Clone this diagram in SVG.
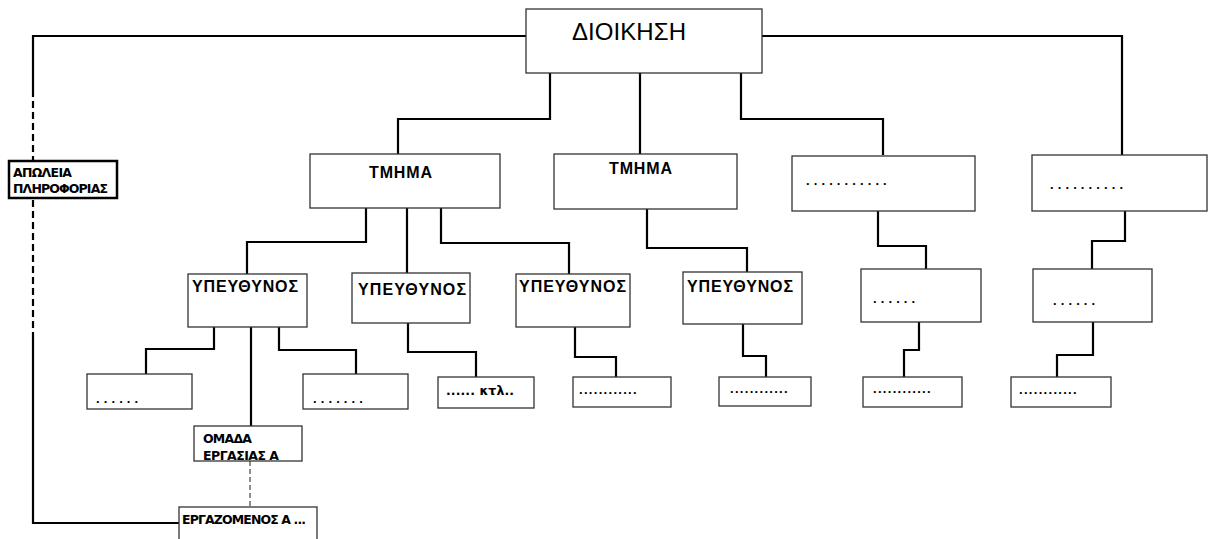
<svg xmlns="http://www.w3.org/2000/svg" width="1211" height="539" viewBox="0 0 1211 539">
<style>
.box{fill:#fff;stroke:#333;stroke-width:1.3}
.thick{fill:#fff;stroke:#000;stroke-width:2.5}
.c{fill:none;stroke:#000;stroke-width:2.2}
.d{fill:none;stroke:#000;stroke-width:2.2;stroke-dasharray:7 4}
.d2{fill:none;stroke:#444;stroke-width:1.2;stroke-dasharray:5 3}
text{font-family:"Liberation Sans",Arial,sans-serif;fill:#000}
.h{font-size:24px}
.t{font-size:16px;font-weight:bold}
.u{font-size:16px;font-weight:bold}
.s{font-family:"DejaVu Sans",sans-serif;font-size:12.5px;font-weight:bold}
.dots{font-size:13px;font-weight:bold;letter-spacing:4.1px}
.dots2{font-size:13px;font-weight:bold;letter-spacing:1.3px}
</style>
<g id="connectors">
<path class="c" d="M526 36 H33 V90"/>
<path class="d" d="M33 90 V335"/>
<path class="c" d="M33 335 V523 H179"/>
<path class="c" d="M762 36 H1122 V155"/>
<path class="c" d="M550 73 V119 H398 V154"/>
<path class="c" d="M640 73 V154"/>
<path class="c" d="M741 73 V119 H883 V155"/>
<path class="c" d="M366 208 V242 H247 V274"/>
<path class="c" d="M407 208 V274"/>
<path class="c" d="M441 208 V243 H569 V274"/>
<path class="c" d="M214 327 V349 H146 V374"/>
<path class="c" d="M251 327 V426"/>
<path class="c" d="M279 327 V350 H356 V374"/>
<path class="d2" d="M250 461 V507"/>
<path class="c" d="M408 323 V352 H476 V377"/>
<path class="c" d="M575 327 V357 H616 V377"/>
<path class="c" d="M647 209 V248 H747 V272"/>
<path class="c" d="M743 324 V356 H766 V377"/>
<path class="c" d="M878 211 V246 H926 V269"/>
<path class="c" d="M919 322 V350 H904 V377"/>
<path class="c" d="M1125 211 V241 H1092 V269"/>
<path class="c" d="M1093 322 V355 H1057 V377"/>
</g>
<g id="dioikisi"><rect class="box" x="526" y="9" width="236" height="64"/><text class="h" x="572" y="40" textLength="114">ΔΙΟΙΚΗΣΗ</text></g>
<g id="apoleia"><rect class="thick" x="9" y="161" width="108" height="37"/><text class="s" x="13" y="177" textLength="59">ΑΠΩΛΕΙΑ</text><text class="s" x="13" y="193" textLength="95">ΠΛΗΡΟΦΟΡΙΑΣ</text></g>
<g id="tmima1"><rect class="box" x="310" y="154" width="190" height="54"/><text class="t" x="369" y="178" textLength="63">ΤΜΗΜΑ</text></g>
<g id="tmima2"><rect class="box" x="554" y="154" width="183" height="55"/><text class="t" x="609" y="174" textLength="63">ΤΜΗΜΑ</text></g>
<g id="dept3"><rect class="box" x="792" y="156" width="183" height="55"/><text class="dots" x="806" y="185">...........</text></g>
<g id="dept4"><rect class="box" x="1032" y="155" width="175" height="56"/><text class="dots" x="1050" y="189">..........</text></g>
<g id="ypeythynos1"><rect class="box" x="188" y="274" width="119" height="53"/><text class="u" x="192" y="292" textLength="106">ΥΠΕΥΘΥΝΟΣ</text></g>
<g id="ypeythynos2"><rect class="box" x="352" y="273" width="118" height="50"/><text class="u" x="358" y="295" textLength="108">ΥΠΕΥΘΥΝΟΣ</text></g>
<g id="ypeythynos3"><rect class="box" x="516" y="274" width="114" height="53"/><text class="u" x="519" y="292" textLength="107">ΥΠΕΥΘΥΝΟΣ</text></g>
<g id="ypeythynos4"><rect class="box" x="683" y="272" width="119" height="52"/><text class="u" x="687" y="292" textLength="106">ΥΠΕΥΘΥΝΟΣ</text></g>
<g id="sub3"><rect class="box" x="861" y="269" width="120" height="53"/><text class="dots" x="873" y="303">......</text></g>
<g id="sub4"><rect class="box" x="1033" y="269" width="119" height="53"/><text class="dots" x="1053" y="305">......</text></g>
<g id="leaf1"><rect class="box" x="87" y="374" width="105" height="35"/><text class="dots" x="96" y="403">......</text></g>
<g id="leaf2"><rect class="box" x="303" y="374" width="105" height="35"/><text class="dots" x="313" y="403">.......</text></g>
<g id="leaf3"><rect class="box" x="438" y="377" width="96" height="31"/><text class="s" x="446" y="395" textLength="68">...... κτλ..</text></g>
<g id="leaf4"><rect class="box" x="573" y="377" width="98" height="30"/><text class="dots2" x="579" y="394">............</text></g>
<g id="leaf5"><rect class="box" x="719" y="377" width="92" height="29"/><text class="dots2" x="730" y="393">............</text></g>
<g id="leaf6"><rect class="box" x="863" y="377" width="99" height="30"/><text class="dots2" x="873" y="393">............</text></g>
<g id="leaf7"><rect class="box" x="1011" y="377" width="100" height="30"/><text class="dots2" x="1019" y="394">............</text></g>
<g id="omada"><rect class="box" x="194" y="426" width="108" height="35"/><text class="s" x="203" y="443" textLength="49">ΟΜΑΔΑ</text><text class="s" x="203" y="460" textLength="76">ΕΡΓΑΣΙΑΣ Α</text></g>
<g id="ergazomenos"><rect class="box" x="179" y="507" width="138" height="36"/><text class="s" x="182" y="524" textLength="124">ΕΡΓΑΖΟΜΕΝΟΣ Α ...</text></g>
</svg>
